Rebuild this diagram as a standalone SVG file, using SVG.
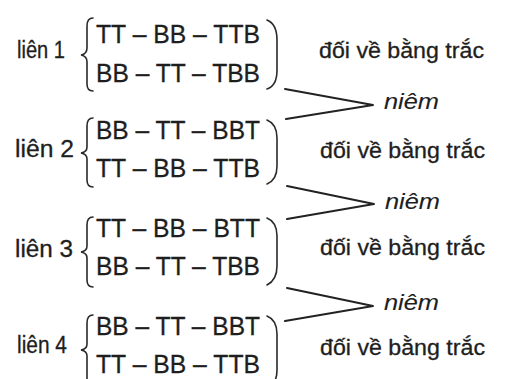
<svg xmlns="http://www.w3.org/2000/svg" width="514" height="379" viewBox="0 0 514 379">
<style>
text{font-family:"Liberation Sans",Arial,sans-serif;fill:#1e1e1e;stroke:#1e1e1e;stroke-width:0.3}
.lb{font-size:23px}
.row{font-size:25px}
.rt{font-size:22px}
.nm{font-size:22px;font-style:italic;stroke-width:0.1}
.br{fill:none;stroke:#2a2a2a;stroke-width:1.6;stroke-linecap:round}
.cn{fill:none;stroke:#222;stroke-width:2;stroke-linecap:round;stroke-linejoin:round}
</style>
<rect width="514" height="379" fill="#fff"/>
<g id="lien1">
<text class="lb" x="17" y="58" textLength="48" lengthAdjust="spacingAndGlyphs">liên 1</text>
<path class="br" d="M93,18 Q87,18 87,26 L87,48 Q87,54 81,55 Q87,56 87,62 L87,84 Q87,91 93,91"/>
<text class="row" x="96" y="43" textLength="164" lengthAdjust="spacingAndGlyphs">TT – BB – TTB</text>
<text class="row" x="96" y="82" textLength="164" lengthAdjust="spacingAndGlyphs">BB – TT – TBB</text>
<path class="br" d="M267,20 Q277,24 277,40 L277,70 Q277,86 267,89"/>
<text class="rt" x="319" y="58" textLength="165" lengthAdjust="spacingAndGlyphs">đối về bằng trắc</text>
</g>
<g id="lien2">
<text class="lb" x="15" y="157" textLength="59" lengthAdjust="spacingAndGlyphs">liên 2</text>
<path class="br" d="M93,118 Q87,118 87,126 L87,147 Q87,152 81,153 Q87,154 87,159 L87,180 Q87,187 93,187"/>
<text class="row" x="96" y="139" textLength="164" lengthAdjust="spacingAndGlyphs">BB – TT – BBT</text>
<text class="row" x="96" y="177" textLength="164" lengthAdjust="spacingAndGlyphs">TT – BB – TTB</text>
<path class="br" d="M267,120 Q277,124 277,138 L277,166 Q277,180 267,184"/>
<text class="rt" x="320" y="158" textLength="165" lengthAdjust="spacingAndGlyphs">đối về bằng trắc</text>
</g>
<g id="lien3">
<text class="lb" x="15" y="257" textLength="58" lengthAdjust="spacingAndGlyphs">liên 3</text>
<path class="br" d="M93,217 Q87,217 87,225 L87,246 Q87,251 81,252 Q87,253 87,258 L87,280 Q87,287 93,287"/>
<text class="row" x="96" y="237" textLength="164" lengthAdjust="spacingAndGlyphs">TT – BB – BTT</text>
<text class="row" x="96" y="275" textLength="164" lengthAdjust="spacingAndGlyphs">BB – TT – TBB</text>
<path class="br" d="M267,218 Q277,222 277,236 L277,266 Q277,280 267,285"/>
<text class="rt" x="320" y="255" textLength="165" lengthAdjust="spacingAndGlyphs">đối về bằng trắc</text>
</g>
<g id="lien4">
<text class="lb" x="17" y="353" textLength="50" lengthAdjust="spacingAndGlyphs">liên 4</text>
<path class="br" d="M93,315 Q87,315 87,323 L87,344 Q87,349 81,350 Q87,351 87,356 L87,378 Q87,385 93,385"/>
<text class="row" x="96" y="335" textLength="164" lengthAdjust="spacingAndGlyphs">BB – TT – BBT</text>
<text class="row" x="96" y="373" textLength="164" lengthAdjust="spacingAndGlyphs">TT – BB – TTB</text>
<path class="br" d="M267,316 Q277,320 277,334 L277,370 Q277,380 272,385"/>
<text class="rt" x="320" y="355" textLength="165" lengthAdjust="spacingAndGlyphs">đối về bằng trắc</text>
</g>
<g id="niem1"><text class="nm" x="384" y="109" textLength="55" lengthAdjust="spacingAndGlyphs">niêm</text></g>
<g id="niem2"><text class="nm" x="385" y="209" textLength="55" lengthAdjust="spacingAndGlyphs">niêm</text></g>
<g id="niem3"><text class="nm" x="384" y="310" textLength="55" lengthAdjust="spacingAndGlyphs">niêm</text></g>
<g id="connectors">
<polyline class="cn" points="285,89 373,105 286,119"/>
<polyline class="cn" points="287,186 374,204 287,219"/>
<polyline class="cn" points="287,288 373,306 285,321"/>
</g>
</svg>
